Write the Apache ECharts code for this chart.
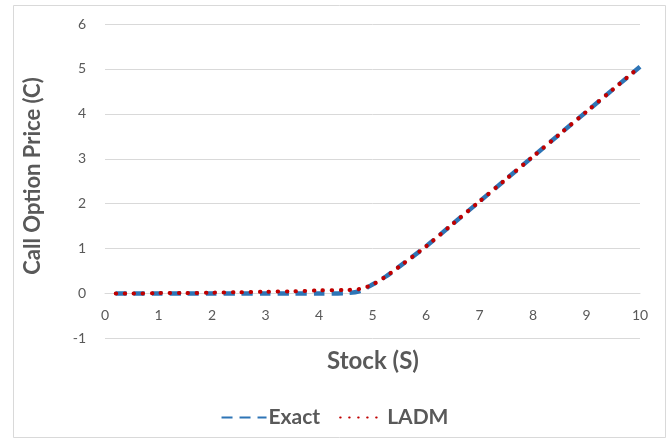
<!DOCTYPE html>
<html>
<head>
<meta charset="utf-8">
<script src="https://cdn.jsdelivr.net/npm/echarts@6/dist/echarts.min.js"></script>
<style>
html,body{margin:0;padding:0;background:#fff;}
#chart{width:669px;height:441px;}
</style>
</head>
<body>
<div id="chart"></div>
<script>
var stock = [0.2, 0.5, 1, 1.5, 2, 2.5, 3, 3.5, 4, 4.5, 4.75, 5, 5.25, 5.5, 6, 6.5, 7, 7.5, 8, 8.5, 9, 9.5, 10];
var exact = [0, 0, 0, 0, 0, 0, 0, 0, 0, 0.01, 0.05, 0.2, 0.38, 0.6, 1.05, 1.55, 2.05, 2.55, 3.05, 3.55, 4.05, 4.55, 5.05];
var ladm  = [0, 0, 0.01, 0.01, 0.02, 0.03, 0.04, 0.05, 0.07, 0.08, 0.1, 0.2, 0.38, 0.6, 1.05, 1.55, 2.05, 2.55, 3.05, 3.55, 4.05, 4.55, 5.05];
var seriesNames = ['Exact', 'LADM'];
var xTitle = 'Stock (S)';
var yTitle = 'Call Option Price (C)';

function pairs(xs, ys) { return xs.map(function (x, i) { return [x, ys[i]]; }); }

var font = 'Lato, "Open Sans", sans-serif';
var gridTop = 24, gridBottom = 102.5, H = 441;
var yMin = -1, yMax = 6;
var zeroOffset = -(H - gridTop - gridBottom) * (0 - yMin) / (yMax - yMin);

var chart = echarts.init(document.getElementById('chart'));
chart.setOption({
  animation: false,
  backgroundColor: '#ffffff',
  grid: { left: 105, right: 29, top: gridTop, bottom: gridBottom },
  xAxis: {
    type: 'value', min: 0, max: 10, interval: 1,
    offset: zeroOffset,
    axisLine: { show: true, onZero: false, lineStyle: { color: '#D9D9D9', width: 1 } },
    axisTick: { show: false },
    splitLine: { show: false },
    axisLabel: { color: '#595959', fontSize: 14, fontFamily: font, margin: 15 }
  },
  yAxis: {
    type: 'value', min: yMin, max: yMax, interval: 1,
    axisLine: { show: false },
    axisTick: { show: false },
    splitLine: { show: true, lineStyle: { color: '#D9D9D9', width: 1 } },
    axisLabel: { color: '#595959', fontSize: 14, fontFamily: font, margin: 19 }
  },
  legend: {
    data: seriesNames,
    left: 'center', top: 402,
    itemWidth: 45, itemHeight: 20, itemGap: 19,
    itemStyle: { opacity: 0, borderWidth: 0 },
    textStyle: { color: '#595959', fontSize: 21, fontWeight: 'bold', fontFamily: font, padding: [0, 0, 0, -3] }
  },
  graphic: [
    { type: 'rect', shape: { x: 13.5, y: 5.5, width: 652, height: 432 }, style: { fill: 'none', stroke: '#D9D9D9', lineWidth: 1 }, silent: true, z: -1 },
    { type: 'text', x: 33, y: 176, rotation: Math.PI / 2, style: { text: yTitle, fill: '#595959', font: 'bold 22px ' + font, align: 'center', verticalAlign: 'middle' } },
    { type: 'text', x: 373, y: 361, style: { text: xTitle, fill: '#595959', font: 'bold 24px ' + font, align: 'center', verticalAlign: 'middle' } }
  ],
  series: [
    {
      name: seriesNames[0], type: 'line', data: pairs(stock, exact),
      showSymbol: false, symbol: 'none', smooth: 0.3,
      lineStyle: { color: '#2E75B6', width: 4.5, type: [11, 7], cap: 'butt' },
      itemStyle: { color: '#2E75B6' }
    },
    {
      name: seriesNames[1], type: 'line', data: pairs(stock, ladm),
      showSymbol: false, symbol: 'none', smooth: 0.3,
      lineStyle: { color: '#C00000', width: 4, type: [0.5, 8.5], cap: 'round' },
      itemStyle: { color: '#C00000' }
    }
  ]
});
</script>
</body>
</html>
